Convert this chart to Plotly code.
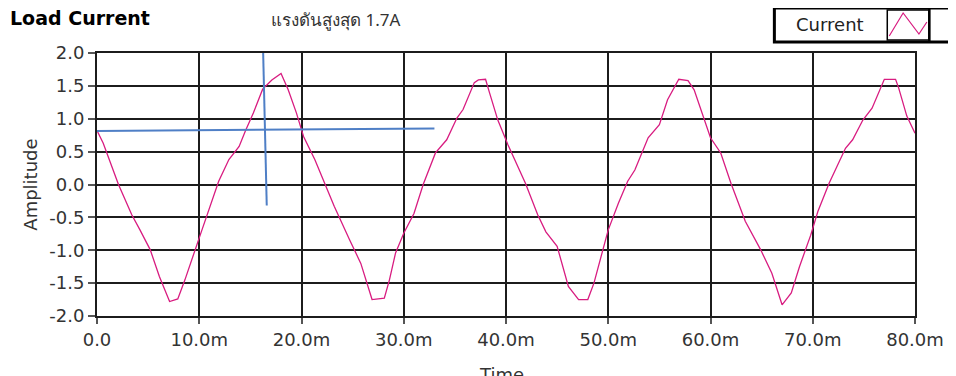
import plotly.graph_objects as go

# ---- data (time in ms, current in A) ----
time_ms = [0.0, 0.6, 2.1, 3.4, 4.2, 5.2, 6.1, 7.1, 7.9, 8.6, 10.2, 11.1, 11.9, 12.9, 13.9,
           14.5, 15.3, 16.2, 17.1, 18.0, 18.7, 19.5, 20.2, 21.3, 22.3, 23.2, 24.7, 25.8,
           26.9, 28.1, 28.6, 29.2, 30.0, 31.0, 31.9, 33.1, 34.2, 35.2, 35.8, 36.9, 37.3,
           38.0, 38.4, 39.2, 40.2, 41.9, 43.1, 43.9, 45.0, 46.1, 47.1, 48.0, 48.6, 50.0,
           51.0, 51.9, 52.6, 53.9, 55.0, 55.8, 56.9, 57.8, 58.4, 60.0, 61.0, 62.0, 63.4,
           64.9, 66.0, 67.0, 67.9, 68.7, 69.8, 70.5, 71.6, 73.2, 73.9, 74.9, 75.8, 77.0,
           78.1, 78.4, 79.2, 80.0]
current = [0.82, 0.63, 0.0, -0.46, -0.69, -0.99, -1.40, -1.78, -1.74, -1.45, -0.72, -0.33,
           0.05, 0.38, 0.58, 0.81, 1.09, 1.45, 1.59, 1.69, 1.44, 1.09, 0.73, 0.38, 0.0,
           -0.33, -0.84, -1.20, -1.75, -1.73, -1.45, -1.04, -0.74, -0.44, 0.0, 0.48, 0.68,
           1.01, 1.14, 1.55, 1.59, 1.60, 1.39, 0.98, 0.60, 0.02, -0.46, -0.72, -0.94, -1.55,
           -1.75, -1.75, -1.50, -0.69, -0.28, 0.05, 0.22, 0.71, 0.91, 1.29, 1.60, 1.58,
           1.44, 0.71, 0.48, 0.02, -0.56, -0.99, -1.35, -1.83, -1.65, -1.25, -0.77, -0.41,
           0.02, 0.55, 0.68, 0.98, 1.16, 1.60, 1.60, 1.47, 1.04, 0.78]

# cursor lines (hand drawn markers in the original)
cursor_h_x = [0.0, 33.0]
cursor_h_y = [0.815, 0.85]
cursor_v_x = [16.25, 16.6]
cursor_v_y = [2.0, -0.32]

x_tickvals = [0, 10, 20, 30, 40, 50, 60, 70, 80]
x_ticktext = ["0.0", "10.0m", "20.0m", "30.0m", "40.0m", "50.0m", "60.0m", "70.0m", "80.0m"]
y_tickvals = [2.0, 1.5, 1.0, 0.5, 0.0, -0.5, -1.0, -1.5, -2.0]
y_ticktext = ["2.0", "1.5", "1.0", "0.5", "0.0", "-0.5", "-1.0", "-1.5", "-2.0"]

title_text = "Load Current"
note_text = "แรงดันสูงสุด 1.7A"
legend_name = "Current"

# ---- layout geometry (window pixels; page body has an 8px margin) ----
OFF = 8
WIN_W, WIN_H = 956, 376
W, H = WIN_W - OFF, WIN_H - OFF
L, R, T, B = 97, 923, 53, 316   # plot area in window pixels


def px(x):
    return (x - L) / (R - L)


def py(y):
    return (B - y) / (B - T)


FONT = "DejaVu Sans"
LINE_COLOR = "#d81c80"
CURSOR_COLOR = "#4f7fc6"

fig = go.Figure()
fig.add_trace(go.Scatter(x=time_ms, y=current, mode="lines", name=legend_name,
                         line=dict(color=LINE_COLOR, width=1.3), showlegend=False))
fig.add_trace(go.Scatter(x=cursor_h_x, y=cursor_h_y, mode="lines",
                         line=dict(color=CURSOR_COLOR, width=2), showlegend=False,
                         cliponaxis=False))
fig.add_trace(go.Scatter(x=cursor_v_x, y=cursor_v_y, mode="lines",
                         line=dict(color=CURSOR_COLOR, width=2), showlegend=False,
                         cliponaxis=False))

shapes = []
# legend frame
shapes.append(dict(type="rect", xref="paper", yref="paper",
                   x0=px(781), x1=px(962), y0=py(42), y1=py(8),
                   line=dict(color="black", width=3), fillcolor="white", layer="above"))
shapes.append(dict(type="rect", xref="paper", yref="paper",
                   x0=px(895), x1=px(937), y0=py(40), y1=py(10),
                   line=dict(color="black", width=1.5), fillcolor="white", layer="above"))
shapes.append(dict(type="line", xref="paper", yref="paper",
                   x0=px(937.5), x1=px(937.5), y0=py(42), y1=py(8),
                   line=dict(color="black", width=2.5), layer="above"))
zig = [(897, 36), (911, 13), (927, 34), (935, 22)]
path = "M " + " L ".join(f"{px(a):.5f},{py(b):.5f}" for a, b in zig)
shapes.append(dict(type="path", xref="paper", yref="paper", path=path,
                   line=dict(color=LINE_COLOR, width=1.2), layer="above"))

annotations = [
    dict(text=f"<b>{title_text}</b>", xref="paper", yref="paper", x=px(7), y=py(18),
         xanchor="left", yanchor="middle", showarrow=False,
         font=dict(family=FONT, size=19, color="black")),
    dict(text=note_text, xref="paper", yref="paper", x=px(271), y=py(19),
         xanchor="left", yanchor="middle", showarrow=False,
         font=dict(family="Noto Sans, DejaVu Sans", size=17, color="#333333")),
    dict(text=legend_name, xref="paper", yref="paper", x=px(837), y=py(25),
         xanchor="center", yanchor="middle", showarrow=False,
         font=dict(family=FONT, size=18, color="#222222")),
    dict(text="Time", xref="paper", yref="paper", x=px(505), y=py(362),
         xanchor="center", yanchor="top", showarrow=False,
         font=dict(family=FONT, size=18, color="#333333")),
    dict(text="Amplitude", xref="paper", yref="paper", x=px(29), y=py(185),
         xanchor="center", yanchor="middle", showarrow=False, textangle=-90,
         font=dict(family=FONT, size=18, color="#333333")),
]

fig.update_layout(
    width=W, height=H,
    margin=dict(l=L - OFF, r=WIN_W - R, t=T - OFF, b=WIN_H - B, pad=0),
    paper_bgcolor="white", plot_bgcolor="white",
    shapes=shapes, annotations=annotations,
    showlegend=False,
    xaxis=dict(range=[0, 80], tickvals=x_tickvals, ticktext=x_ticktext,
               showgrid=True, gridcolor="#1c1c1c", gridwidth=1.5,
               showline=True, linecolor="#1c1c1c", linewidth=2, mirror=True,
               ticks="outside", ticklen=6, tickwidth=1.5, tickcolor="#555555",
               tickfont=dict(family=FONT, size=18, color="#333333"),
               zeroline=False, fixedrange=True),
    yaxis=dict(range=[-2.0, 2.0], tickvals=y_tickvals, ticktext=y_ticktext,
               showgrid=True, gridcolor="#1c1c1c", gridwidth=1.5,
               showline=True, linecolor="#1c1c1c", linewidth=2, mirror=True,
               ticks="outside", ticklen=7, tickwidth=1.5, tickcolor="#555555",
               tickfont=dict(family=FONT, size=18, color="#333333"),
               zeroline=False, fixedrange=True),
)

fig.write_html("out.html", config={"displayModeBar": False})
